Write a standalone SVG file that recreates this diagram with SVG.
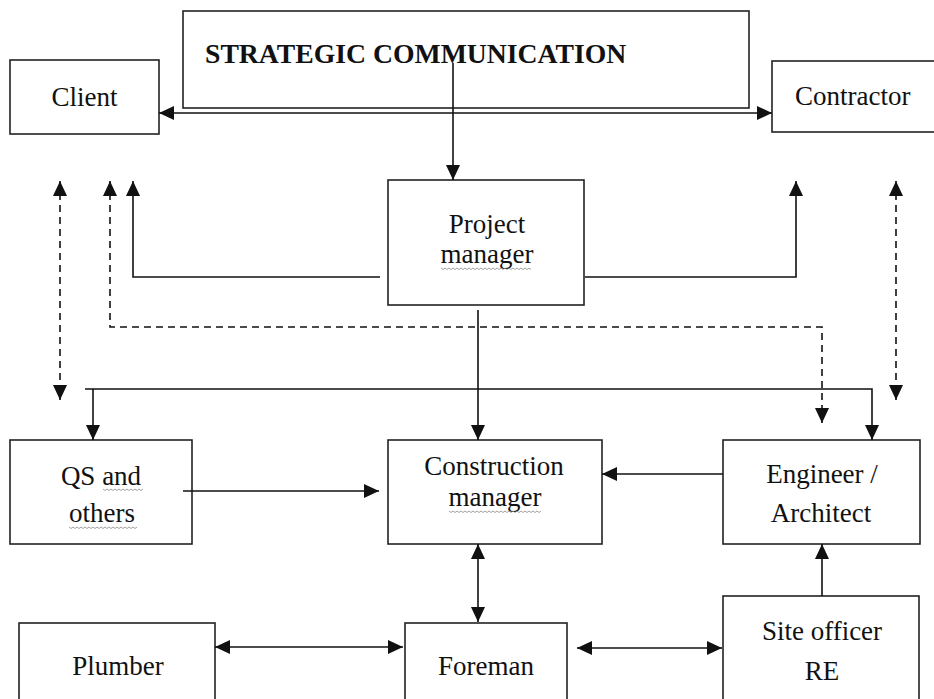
<svg xmlns="http://www.w3.org/2000/svg" width="934" height="699" viewBox="0 0 934 699">
<style>
.box{fill:#fff;stroke:#222;stroke-width:1.6}
.t{font-family:"Liberation Serif","Times New Roman",serif;font-size:27px;fill:#111}
.c{text-anchor:middle}
.b{font-weight:bold;font-size:27.7px}
.ln{fill:none;stroke:#111;stroke-width:1.6}
.dash{stroke-dasharray:7 5}
.sq{fill:none;stroke:#8a8a8a;stroke-width:0.8}
</style>
<defs>
<marker id="ah" viewBox="0 0 15 14" refX="15" refY="7" markerWidth="15" markerHeight="14" markerUnits="userSpaceOnUse" orient="auto-start-reverse">
<path d="M0,0 L15,7 L0,14 Z" fill="#111"/>
</marker>
</defs>

<g id="strategic">
<rect class="box" x="183" y="11" width="566" height="97"/>
<text class="t b" x="205" y="63">STRATEGIC COMMUNICATION</text>
</g>
<g id="client">
<rect class="box" x="10" y="60" width="149" height="74"/>
<text class="t c" x="84.5" y="106">Client</text>
</g>
<g id="contractor">
<rect class="box" x="772" y="61" width="170" height="71"/>
<text class="t" x="795" y="105">Contractor</text>
</g>
<g id="project-manager">
<rect class="box" x="388" y="180" width="196" height="125"/>
<text class="t c" x="487" y="233">Project</text>
<text class="t c" x="487" y="263">manager</text>
<path class="sq" d="M441,268 l2,1.5 l2,-1.5 l2,1.5 l2,-1.5 l2,1.5 l2,-1.5 l2,1.5 l2,-1.5 l2,1.5 l2,-1.5 l2,1.5 l2,-1.5 l2,1.5 l2,-1.5 l2,1.5 l2,-1.5 l2,1.5 l2,-1.5 l2,1.5 l2,-1.5 l2,1.5 l2,-1.5 l2,1.5 l2,-1.5 l2,1.5 l2,-1.5 l2,1.5 l2,-1.5 l2,1.5 l2,-1.5 l2,1.5 l2,-1.5 l2,1.5 l2,-1.5 l2,1.5 l2,-1.5 l2,1.5 l2,-1.5 l2,1.5 l2,-1.5 l2,1.5 l2,-1.5 l2,1.5 l2,-1.5 l2,1.5"/>
</g>
<g id="qs-others">
<rect class="box" x="10" y="440" width="182" height="104"/>
<text class="t c" x="101" y="485">QS and</text>
<text class="t c" x="102" y="522">others</text>
<path class="sq" d="M103,489 l2,1.5 l2,-1.5 l2,1.5 l2,-1.5 l2,1.5 l2,-1.5 l2,1.5 l2,-1.5 l2,1.5 l2,-1.5 l2,1.5 l2,-1.5 l2,1.5 l2,-1.5 l2,1.5 l2,-1.5 l2,1.5 l2,-1.5 l2,1.5 l2,-1.5"/>
<path class="sq" d="M69,527 l2,1.5 l2,-1.5 l2,1.5 l2,-1.5 l2,1.5 l2,-1.5 l2,1.5 l2,-1.5 l2,1.5 l2,-1.5 l2,1.5 l2,-1.5 l2,1.5 l2,-1.5 l2,1.5 l2,-1.5 l2,1.5 l2,-1.5 l2,1.5 l2,-1.5 l2,1.5 l2,-1.5 l2,1.5 l2,-1.5 l2,1.5 l2,-1.5 l2,1.5 l2,-1.5 l2,1.5 l2,-1.5 l2,1.5 l2,-1.5 l2,1.5 l2,-1.5"/>
</g>
<g id="construction-manager">
<rect class="box" x="388" y="440" width="214" height="104"/>
<text class="t c" x="494" y="475">Construction</text>
<text class="t c" x="495" y="506">manager</text>
<path class="sq" d="M449,511 l2,1.5 l2,-1.5 l2,1.5 l2,-1.5 l2,1.5 l2,-1.5 l2,1.5 l2,-1.5 l2,1.5 l2,-1.5 l2,1.5 l2,-1.5 l2,1.5 l2,-1.5 l2,1.5 l2,-1.5 l2,1.5 l2,-1.5 l2,1.5 l2,-1.5 l2,1.5 l2,-1.5 l2,1.5 l2,-1.5 l2,1.5 l2,-1.5 l2,1.5 l2,-1.5 l2,1.5 l2,-1.5 l2,1.5 l2,-1.5 l2,1.5 l2,-1.5 l2,1.5 l2,-1.5 l2,1.5 l2,-1.5 l2,1.5 l2,-1.5 l2,1.5 l2,-1.5 l2,1.5 l2,-1.5 l2,1.5 l2,-1.5"/>
</g>
<g id="engineer-architect">
<rect class="box" x="723" y="440" width="197" height="104"/>
<text class="t c" x="822" y="483">Engineer /</text>
<text class="t c" x="821" y="522">Architect</text>
</g>
<g id="plumber">
<rect class="box" x="19" y="623" width="196" height="90"/>
<text class="t c" x="118" y="675">Plumber</text>
</g>
<g id="foreman">
<rect class="box" x="405" y="623" width="162" height="90"/>
<text class="t c" x="486" y="675">Foreman</text>
</g>
<g id="site-officer">
<rect class="box" x="723" y="596" width="196" height="117"/>
<text class="t c" x="822" y="640">Site officer</text>
<text class="t c" x="822" y="680">RE</text>
</g>

<g id="connectors">
<path class="ln" d="M159,113 H772" marker-start="url(#ah)" marker-end="url(#ah)"/>
<path class="ln" d="M453,63 V180" marker-end="url(#ah)"/>
<path class="ln" d="M380,277 H133 V181" marker-end="url(#ah)"/>
<path class="ln" d="M585,277 H796 V181" marker-end="url(#ah)"/>
<path class="ln dash" d="M60,181 V400" marker-start="url(#ah)" marker-end="url(#ah)"/>
<path class="ln dash" d="M110,181 V327 H822 V423" marker-start="url(#ah)" marker-end="url(#ah)"/>
<path class="ln dash" d="M896,181 V400" marker-start="url(#ah)" marker-end="url(#ah)"/>
<path class="ln" d="M85,389 H872 V440" marker-end="url(#ah)"/>
<path class="ln" d="M93,389 V440" marker-end="url(#ah)"/>
<path class="ln" d="M478,310 V440" marker-end="url(#ah)"/>
<path class="ln" d="M183,491 H379" marker-end="url(#ah)"/>
<path class="ln" d="M723,474 H602" marker-end="url(#ah)"/>
<path class="ln" d="M478,544 V622" marker-start="url(#ah)" marker-end="url(#ah)"/>
<path class="ln" d="M215,647 H403" marker-start="url(#ah)" marker-end="url(#ah)"/>
<path class="ln" d="M577,648 H722" marker-start="url(#ah)" marker-end="url(#ah)"/>
<path class="ln" d="M822,596 V544" marker-end="url(#ah)"/>
</g>
</svg>
